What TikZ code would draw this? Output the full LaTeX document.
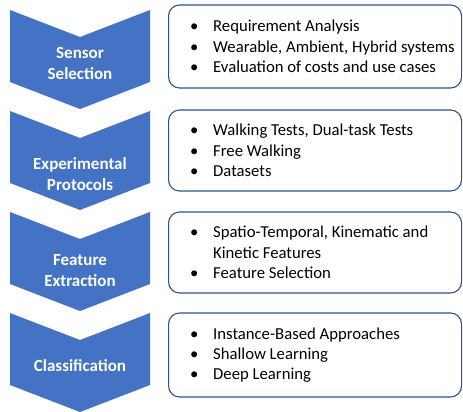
\documentclass[tikz,border=0pt]{standalone}
\usepackage{fontspec}
\setmainfont{Carlito}
\definecolor{chevblue}{HTML}{4472C4}
\definecolor{boxline}{HTML}{2F528F}
\tikzset{
  chev/.style={fill=chevblue, draw=none},
  chevtext/.style={text=white, font=\fontsize{17}{21}\selectfont\bfseries, align=center},
  infobox/.style={draw=boxline, line width=1.1pt, fill=white, rounded corners=11pt,
    minimum width=293pt, anchor=west},
  infotext/.style={anchor=west, inner sep=0pt, align=left,
    font=\fontsize{16.7}{20.3}\selectfont},
}
\newcommand{\bul}{\makebox[23pt][l]{\textbullet}}
\newcommand{\cont}{\hspace*{23pt}}
\begin{document}
\begin{tikzpicture}[x=1pt,y=-1pt]
\useasboundingbox (0,0) rectangle (463,412);
% chevrons
\foreach \t in {10,111,212,313}{
  \fill[chev] (10,\t) -- (80,\t+27) -- (150,\t) -- (150,\t+72) -- (80,\t+99) -- (10,\t+72) -- cycle;
}
\node[chevtext] (c1) at (80,63) {Sensor\\Selection};
\node[chevtext] (c2) at (80,174) {Experimental\\Protocols};
\node[chevtext] (c3) at (80,271) {Feature\\Extraction};
\node[chevtext] (c4) at (80,366) {Classification};
% boxes
\node[infobox, minimum height=83pt] (b1) at (168,46.5) {};
\node[infobox, minimum height=81pt] (b2) at (168,150.5) {};
\node[infobox, minimum height=81pt] (b3) at (168,252.5) {};
\node[infobox, minimum height=84pt] (b4) at (168,355) {};
\node[infotext] (t1) at ([xshift=22pt]b1.west) {\bul Requirement Analysis\\\bul Wearable, Ambient, Hybrid systems\\\bul Evaluation of costs and use cases};
\node[infotext] (t2) at ([xshift=22pt]b2.west) {\bul Walking Tests, Dual-task Tests\\\bul Free Walking\\\bul Datasets};
\node[infotext] (t3) at ([xshift=22pt]b3.west) {\bul Spatio-Temporal, Kinematic and\\\cont Kinetic Features\\\bul Feature Selection};
\node[infotext] (t4) at ([xshift=22pt]b4.west) {\bul Instance-Based Approaches\\\bul Shallow Learning\\\bul Deep Learning};
\end{tikzpicture}
\end{document}
